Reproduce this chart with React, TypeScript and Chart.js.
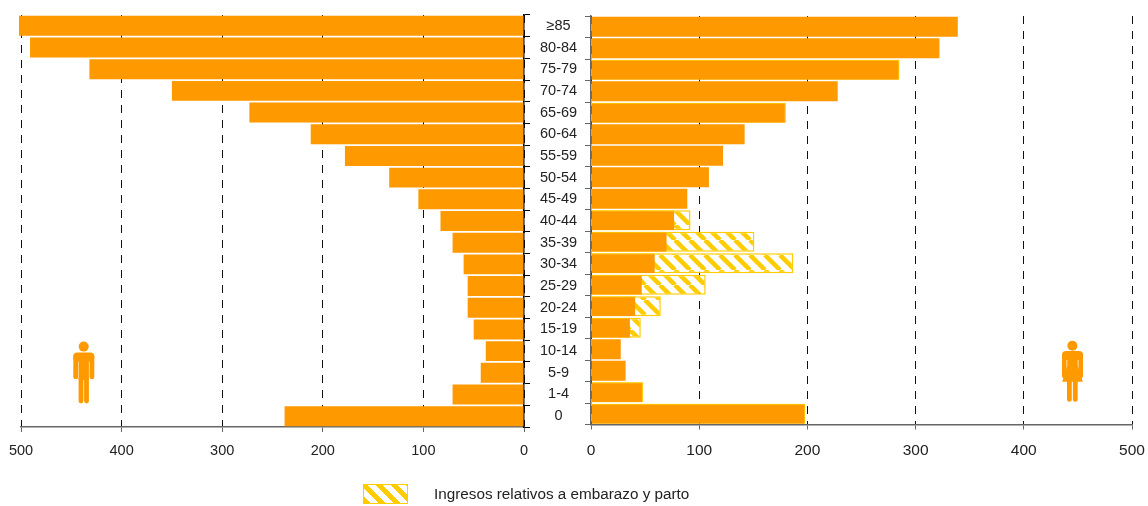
import React, { useEffect, useRef } from "react";
import { Chart, registerables } from "chart.js";

Chart.register(...registerables);

const ageGroups = ["≥85", "80-84", "75-79", "70-74", "65-69", "60-64", "55-59", "50-54", "45-49", "40-44", "35-39", "30-34", "25-29", "20-24", "15-19", "10-14", "5-9", "1-4", "0"];
const menValues = [502, 491, 432, 350, 273, 212, 178, 134, 105, 83, 71, 60, 56, 56, 50, 38, 43, 71, 238];
const womenValues = [339, 322, 285, 228, 180, 142, 122, 109, 89, 77, 70, 59, 47, 41, 36, 27.5, 32, 48, 198];
// Women's totals including pregnancy and childbirth admissions.
const womenTotals = [null, null, 285, null, 180, null, null, null, null, 92, 151, 187, 106, 64.5, 46, null, null, 48, 198];
const xTicks = [0, 100, 200, 300, 400, 500];
const legendLabel = "Ingresos relativos a embarazo y parto";

const ORANGE = "#FF9900";
const YELLOW = "#FFCC00";
const AXIS_GREY = "#666666";
const TEXT = "#222222";
const FONT = "'Liberation Sans', Arial, sans-serif";
const WIDTH = 1148;
const HEIGHT = 506;

function makeHatch(): CanvasPattern {
  const size = 15;
  const tile = document.createElement("canvas");
  tile.width = size;
  tile.height = size;
  const c = tile.getContext("2d")!;
  c.fillStyle = "#ffffff";
  c.fillRect(0, 0, size, size);
  c.strokeStyle = YELLOW;
  c.lineWidth = 4.5;
  for (const shift of [-size, 0, size]) {
    c.beginPath();
    c.moveTo(shift, 0);
    c.lineTo(shift + size, size);
    c.stroke();
  }
  return c.createPattern(tile, "repeat")!;
}

function xScale(reverse: boolean, bottomSpace: number, fontSize: number, labelPadding: number) {
  return {
    type: "linear",
    min: 0,
    max: 500,
    reverse,
    afterBuildTicks: (axis: any) => {
      axis.ticks = xTicks.map((value) => ({ value }));
    },
    afterFit: (axis: any) => {
      axis.height = bottomSpace;
      axis.paddingLeft = 0;
      axis.paddingRight = 0;
    },
    ticks: {
      color: TEXT,
      font: { family: FONT, size: fontSize },
      padding: labelPadding,
      maxRotation: 0,
    },
    border: { display: true, color: AXIS_GREY, width: 1.5, dash: [8, 7] },
    grid: {
      color: "#111111",
      lineWidth: 1,
      tickLength: 5,
      tickColor: AXIS_GREY,
      tickBorderDash: [],
    },
  } as any;
}

function yAxisGrid(color: string) {
  return {
    drawOnChartArea: false,
    drawTicks: true,
    tickLength: 6,
    color,
    tickColor: color,
  };
}

function fixYAxisWidth(width: number) {
  return (axis: any) => {
    axis.width = width;
    axis.paddingTop = 0;
    axis.paddingBottom = 0;
  };
}

export default function App() {
  const leftRef = useRef<HTMLCanvasElement>(null);
  const rightRef = useRef<HTMLCanvasElement>(null);

  useEffect(() => {
    const hatch = makeHatch();

    const men = new Chart(leftRef.current!, {
      type: "bar",
      data: {
        labels: ageGroups,
        datasets: [
          {
            label: "Hombres",
            data: menValues,
            backgroundColor: ORANGE,
            barPercentage: 0.92,
            categoryPercentage: 1,
            clip: false,
          } as any,
        ],
      },
      options: {
        indexAxis: "y",
        responsive: false,
        animation: false,
        layout: { autoPadding: false, padding: { left: 21, right: 0, top: 15, bottom: 0 } },
        plugins: { legend: { display: false }, tooltip: { enabled: false } },
        scales: {
          x: xScale(true, HEIGHT - 427, 14.5, 10),
          y: {
            position: "right",
            afterFit: fixYAxisWidth(WIDTH - 524),
            ticks: {
              color: TEXT,
              font: { family: FONT, size: 14.5 },
              crossAlign: "center",
              padding: 10,
              autoSkip: false,
            },
            border: { display: true, color: "#000000", width: 1.5 },
            grid: yAxisGrid("#000000"),
          } as any,
        },
      },
    });

    const women = new Chart(rightRef.current!, {
      type: "bar",
      data: {
        labels: ageGroups,
        datasets: [
          {
            label: "Mujeres",
            data: womenValues,
            backgroundColor: ORANGE,
            borderColor: (ctx: any) => (womenTotals[ctx.dataIndex] != null ? YELLOW : ORANGE),
            borderWidth: (ctx: any) => {
              const total = womenTotals[ctx.dataIndex];
              if (total == null) return 0;
              return { top: 1, right: total === womenValues[ctx.dataIndex] ? 1 : 0, bottom: 0, left: 0 };
            },
            borderSkipped: false,
            barPercentage: 0.93,
            categoryPercentage: 1,
          } as any,
          {
            label: legendLabel,
            data: womenTotals,
            backgroundColor: hatch,
            borderColor: YELLOW,
            borderWidth: 1.5,
            borderSkipped: false,
            barPercentage: 0.93,
            categoryPercentage: 1,
          } as any,
        ],
      },
      options: {
        indexAxis: "y",
        responsive: false,
        animation: false,
        layout: { autoPadding: false, padding: { left: 0, right: WIDTH - 1132, top: 16, bottom: 0 } },
        plugins: { legend: { display: false }, tooltip: { enabled: false } },
        scales: {
          x: xScale(false, HEIGHT - 424.5, 15.5, 12),
          y: {
            stacked: true,
            afterFit: fixYAxisWidth(591),
            ticks: { display: false },
            border: { display: true, color: AXIS_GREY, width: 1.5 },
            grid: yAxisGrid(AXIS_GREY),
          } as any,
        },
      },
    });

    return () => {
      men.destroy();
      women.destroy();
    };
  }, []);

  const layer: React.CSSProperties = { position: "absolute", left: 0, top: 0, display: "block" };

  return (
    <div style={{ position: "absolute", left: 0, top: 0, width: WIDTH, height: HEIGHT, overflow: "hidden", background: "#fff" }}>
      <canvas ref={leftRef} width={WIDTH} height={HEIGHT} style={layer} />
      <canvas ref={rightRef} width={WIDTH} height={HEIGHT} style={layer} />

      <svg width={WIDTH} height={HEIGHT} style={{ ...layer, pointerEvents: "none" }} fill={ORANGE}>
        {/* man pictogram */}
        <circle cx={83.7} cy={346.6} r={5} />
        <rect x={73.3} y={352.5} width={21} height={9} rx={4} />
        <rect x={73.3} y={354} width={4.8} height={25.3} rx={2.4} />
        <rect x={89.5} y={354} width={4.8} height={25.3} rx={2.4} />
        <rect x={78.6} y={354} width={10.3} height={26} />
        <rect x={78.6} y={376} width={4.8} height={27.5} rx={2.4} />
        <rect x={84.1} y={376} width={4.8} height={27.5} rx={2.4} />
        {/* woman pictogram */}
        <circle cx={1072.4} cy={345.7} r={5} />
        <rect x={1062} y={351} width={21} height={9} rx={4} />
        <rect x={1062} y={353} width={4.6} height={25.3} rx={2.3} />
        <rect x={1078.4} y={353} width={4.6} height={25.3} rx={2.3} />
        <path d="M1067.3 353 H1077.7 V366 L1082.8 381.7 H1062.2 L1067.3 366 Z" />
        <rect x={1067} y={378} width={4.8} height={23.8} rx={2.4} />
        <rect x={1072.9} y={378} width={4.8} height={23.8} rx={2.4} />
      </svg>

      <div
        style={{
          position: "absolute",
          left: 363,
          top: 484,
          width: 45,
          height: 20,
          boxSizing: "border-box",
          border: `1px solid ${YELLOW}`,
          background: `repeating-linear-gradient(45deg, ${YELLOW} 0 4.5px, #fff 4.5px 10.6px)`,
        }}
      />
      <div
        style={{
          position: "absolute",
          left: 434,
          top: 486,
          fontFamily: FONT,
          fontSize: 14,
          lineHeight: "16px",
          color: TEXT,
          whiteSpace: "nowrap",
          transform: "scaleX(1.09)",
          transformOrigin: "left center",
        }}
      >
        {legendLabel}
      </div>
    </div>
  );
}
